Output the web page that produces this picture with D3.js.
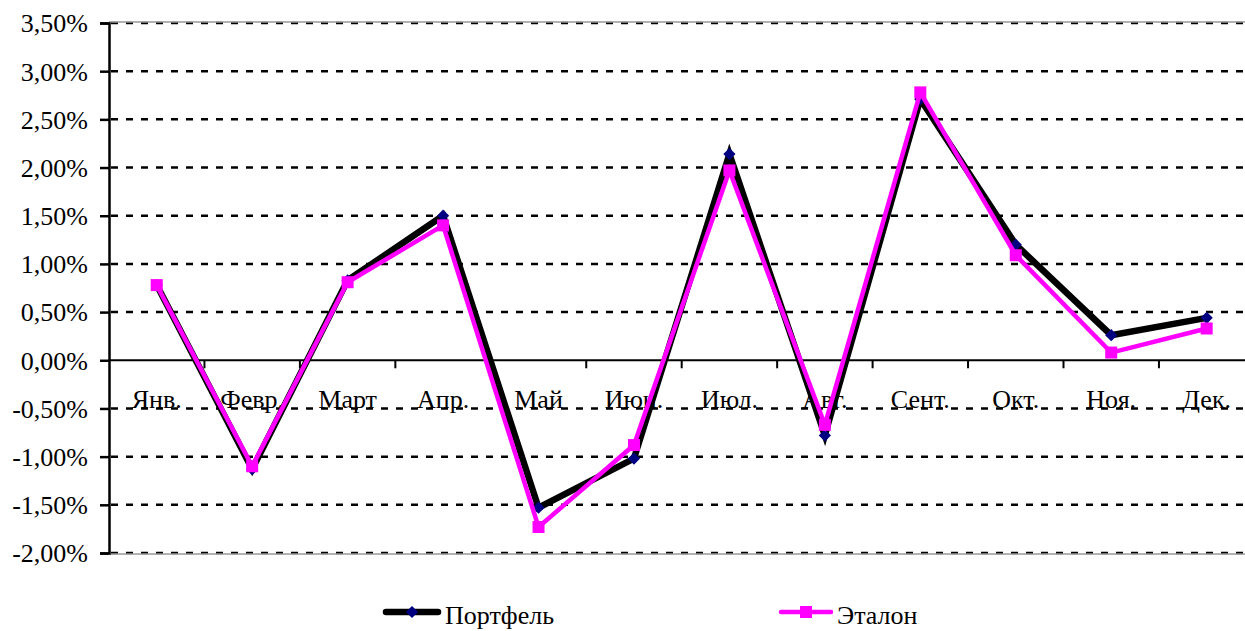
<!DOCTYPE html>
<html>
<head>
<meta charset="utf-8">
<script src="https://cdn.jsdelivr.net/npm/d3@7"></script>
<style>
  body { margin: 0; background: #fff; }
  svg text { font-family: "Liberation Serif", "DejaVu Serif", "Times New Roman", serif !important; }
</style>
</head>
<body>
<script>
var months = ['Янв.', 'Февр.', 'Март', 'Апр.', 'Май', 'Июн.', 'Июл.', 'Авг.', 'Сент.', 'Окт.', 'Ноя.', 'Дек.'];
var portfolio = [0.78, -1.13, 0.83, 1.50, -1.53, -1.02, 2.14, -0.78, 2.71, 1.20, 0.26, 0.44];
var etalon = [0.78, -1.10, 0.81, 1.40, -1.73, -0.88, 1.97, -0.67, 2.78, 1.09, 0.08, 0.33];
var yTicks = [3.5, 3, 2.5, 2, 1.5, 1, 0.5, 0, -0.5, -1, -1.5, -2];

var w = 1245;
var h = 631;
var plotLeft = 109;
var plotTop = 23;
var plotBottom = 553;
var bandW = 95.45;
var fontSize = '26px';

var svg = d3.select('body')
  .append('svg')
  .attr('width', w)
  .attr('height', h);

/* ===== scales ===== */

var xScale = d3.scaleBand()
  .domain(months)
  .range([plotLeft, plotLeft + bandW * months.length]);

var yScale = d3.scaleLinear()
  .domain([-2, 3.5])
  .range([plotBottom, plotTop]);

var fmt = function(v) {
  return v.toFixed(2).replace('.', ',') + '%';
};

/* ===== grid ===== */

svg.append('g')
  .selectAll('line')
  .data(yTicks.filter(function(d) { return d !== 0; }))
  .enter()
  .append('line')
  .attr('x1', plotLeft + 2)
  .attr('x2', w)
  .attr('y1', function(d) { return yScale(d); })
  .attr('y2', function(d) { return yScale(d); })
  .attr('stroke', '#000')
  .attr('stroke-width', 2.5)
  .attr('stroke-dasharray', '7,8');

// gray top/bottom border
[3.5, -2].forEach(function(v) {
  svg.append('line')
    .attr('x1', plotLeft)
    .attr('x2', w)
    .attr('y1', yScale(v) - (v > 0 ? 1 : -1))
    .attr('y2', yScale(v) - (v > 0 ? 1 : -1))
    .attr('stroke', '#999')
    .attr('stroke-width', 1.5);
});

/* ===== y axis ===== */

var yAxis = d3.axisLeft(yScale)
  .tickValues(yTicks)
  .tickSize(9)
  .tickPadding(12)
  .tickFormat(fmt);

var gy = svg.append('g')
  .attr('transform', 'translate(' + plotLeft + ',0)')
  .call(yAxis);

gy.select('.domain').attr('stroke', '#000').attr('stroke-width', 2.5);
gy.selectAll('.tick line').attr('stroke', '#000').attr('stroke-width', 2.5);
gy.selectAll('.tick text')
  .attr('fill', '#000')
  .attr('dy', '0.34em')
  .style('font-size', fontSize);

/* ===== zero axis ===== */

var y0 = yScale(0);
svg.append('line')
  .attr('x1', plotLeft)
  .attr('x2', w)
  .attr('y1', y0)
  .attr('y2', y0)
  .attr('stroke', '#000')
  .attr('stroke-width', 2);

svg.append('g')
  .selectAll('line')
  .data(months.slice(1))
  .enter()
  .append('line')
  .attr('x1', function(d) { return xScale(d); })
  .attr('x2', function(d) { return xScale(d); })
  .attr('y1', y0)
  .attr('y2', y0 + 8)
  .attr('stroke', '#000')
  .attr('stroke-width', 2);

svg.append('g')
  .selectAll('text')
  .data(months)
  .enter()
  .append('text')
  .attr('x', function(d) { return xScale(d) + xScale.bandwidth() / 2; })
  .attr('y', y0 + 48)
  .attr('text-anchor', 'middle')
  .style('font-size', fontSize)
  .attr('fill', '#000')
  .text(function(d) { return d; });

/* ===== lines ===== */

var cx = function(d, i) { return xScale(months[i]) + xScale.bandwidth() / 2; };

var line = d3.line()
  .x(cx)
  .y(function(d) { return yScale(d); });

svg.append('path')
  .datum(portfolio)
  .attr('d', line)
  .attr('fill', 'none')
  .attr('stroke', '#000')
  .attr('stroke-width', 6.5)
  .attr('stroke-linejoin', 'miter');

svg.append('g')
  .selectAll('path')
  .data(portfolio)
  .enter()
  .append('path')
  .attr('d', d3.symbol().type(d3.symbolDiamond2).size(95))
  .attr('transform', function(d, i) { return 'translate(' + cx(d, i) + ',' + yScale(d) + ')'; })
  .attr('fill', '#000080');

svg.append('path')
  .datum(etalon)
  .attr('d', line)
  .attr('fill', 'none')
  .attr('stroke', '#ff00ff')
  .attr('stroke-width', 4.5);

svg.append('g')
  .selectAll('rect')
  .data(etalon)
  .enter()
  .append('rect')
  .attr('x', function(d, i) { return cx(d, i) - 6; })
  .attr('y', function(d) { return yScale(d) - 6; })
  .attr('width', 12)
  .attr('height', 12)
  .attr('fill', '#ff00ff');

/* ===== legend ===== */

var ly = 612;
var lg1 = svg.append('g');
lg1.append('line')
  .attr('x1', 386).attr('x2', 438)
  .attr('y1', ly).attr('y2', ly)
  .attr('stroke', '#000').attr('stroke-width', 6.5)
  .attr('stroke-linecap', 'round');
lg1.append('path')
  .attr('d', d3.symbol().type(d3.symbolDiamond2).size(95))
  .attr('transform', 'translate(412,' + ly + ')')
  .attr('fill', '#000080');
lg1.append('text')
  .attr('x', 445).attr('y', ly + 12)
  .style('font-size', fontSize)
  .text('Портфель');

var lg2 = svg.append('g');
lg2.append('line')
  .attr('x1', 781).attr('x2', 831)
  .attr('y1', ly).attr('y2', ly)
  .attr('stroke', '#ff00ff').attr('stroke-width', 4.5)
  .attr('stroke-linecap', 'round');
lg2.append('rect')
  .attr('x', 800).attr('y', ly - 6)
  .attr('width', 12).attr('height', 12)
  .attr('fill', '#ff00ff');
lg2.append('text')
  .attr('x', 837).attr('y', ly + 12)
  .style('font-size', fontSize)
  .text('Эталон');
</script>
</body>
</html>
